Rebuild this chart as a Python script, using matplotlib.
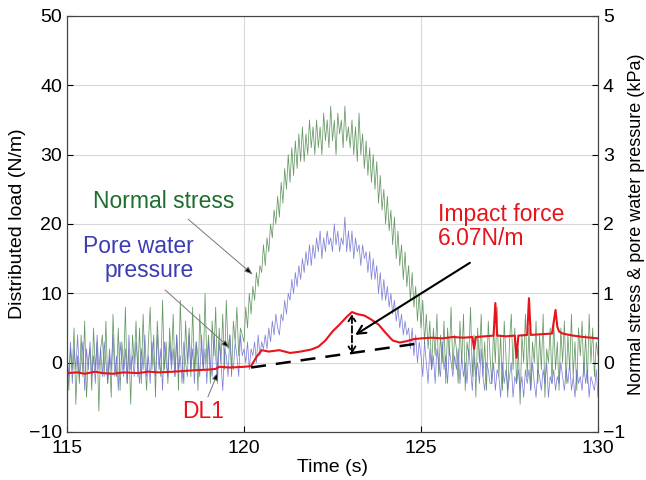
import numpy as np
import matplotlib
matplotlib.use("Agg")
import matplotlib.pyplot as plt

plt.rcParams['font.family'] = ['Liberation Sans', 'DejaVu Sans']

# time axis of the two pressure-cell records (20 samples per second)
time = np.linspace(115, 130, 301)

# normal stress, drawn on the left scale (kPa x 10)
normal_stress = [
    3, -4, 2, -1, 5, -6, 1, -3, 4, -2, 6, -5, 0, 2, -4, 5, -1, 3, -7, 2,
    4, -2, 6, -3, 1, -5, 7, 0, -2, 5, -4, 3, -1, 8, -3, 2, -6, 4, 0, 6,
    -2, 5, -3, 7, 0, -4, 3, 8, -1, 4, -5, 6, 1, -2, 9, -1, 3, -3, 5, 0,
    7, -2, 4, -4, 9, 1, -3, 6, 0, 5, -2, 8, -1, 3, -4, 7, 2, -1, 10, 0,
    4, -3, 6, 1, 8, -2, 5, 0, 7, -1, 9, 2, 4, -2, 6, 3, 8, 1, 5, 4,
    3, 8, 5, 10, 7, 11, 9, 13, 11, 14, 13, 17, 14, 18, 16, 20, 18, 22, 20, 24,
    21, 26, 23, 28, 25, 30, 26, 31, 27, 32, 28, 33, 29, 34, 29, 33, 30, 35, 31, 34,
    30, 35, 31, 34, 30, 36, 32, 35, 31, 37, 32, 35, 30, 36, 33, 35, 31, 37, 32, 34,
    31, 35, 30, 34, 29, 36, 30, 33, 28, 32, 27, 31, 26, 30, 25, 29, 23, 27, 22, 25,
    20, 24, 19, 22, 17, 21, 15, 19, 14, 17, 12, 16, 11, 14, 9, 13, 8, 11, 6, 10,
    5, 9, 3, 7, 2, 6, -1, 5, 1, 7, -2, 4, 0, 6, -3, 5, 1, 8, -1, 4,
    2, -3, 6, 0, 7, -4, 3, 1, 8, -2, 4, -5, 5, 0, 7, -2, 3, -4, 6, 1,
    -3, 5, 0, 8, -2, 4, -4, 6, 1, -5, 3, 7, -1, 5, -3, 2, -6, 4, 0, 7,
    -2, 5, -4, 3, 0, 6, -3, 4, -1, 7, -5, 2, 0, 5, -3, 6, -1, 3, -4, 5,
    0, 6, -3, 4, -1, 7, -2, 3, -4, 5, 1, 6, -2, 4, -3, 7, 0, 5, -2, 3,
    1,
]

# pore water pressure, same scale
pore_pressure = [
    1, -2, 3, -3, 2, -1, 4, -2, 0, 3, -4, 2, -1, 3, -2, 1, -3, 4, -1, 2,
    -2, 3, 0, -3, 2, -1, 4, -2, 1, -4, 3, 0, -2, 2, -3, 4, -1, 1, -2, 3,
    0, -3, 2, -1, 4, -2, 1, -3, 3, 0, -2, 4, -1, 2, -4, 3, 0, -2, 3, -1,
    2, -2, 4, -1, 1, -3, 3, 0, -2, 4, -1, 2, -3, 3, 1, -2, 4, -1, 2, -3,
    3, 0, -2, 4, 1, -3, 3, 0, -4, 2, 1, -2, 4, 0, -1, 3, 1, -2, 4, 1,
    2, 0, 3, -1, 2, 1, 3, 0, 4, 1, 3, 2, 4, 2, 5, 3, 6, 4, 7, 5,
    4, 7, 6, 9, 7, 10, 9, 12, 10, 13, 11, 14, 12, 15, 13, 16, 14, 17, 14, 17,
    15, 18, 16, 19, 15, 18, 16, 19, 17, 18, 16, 20, 17, 19, 16, 18, 17, 21, 16, 19,
    16, 19, 15, 18, 16, 17, 14, 17, 15, 16, 13, 16, 12, 15, 12, 14, 10, 13, 9, 12,
    9, 11, 8, 10, 7, 9, 6, 8, 5, 7, 4, 6, 4, 5, 2, 5, 1, 4, 0, 3,
    1, -2, 3, 0, -3, 2, -1, 1, -3, 2, 0, -2, 3, -1, 1, -3, 2, 0, -2, 1,
    -1, 2, -3, 1, -2, 0, -3, 2, -1, -4, 1, -2, 0, -3, 2, -2, -4, 0, -1, -3,
    -3, 0, -4, -1, -2, -5, 0, -3, -1, -4, -2, 0, -5, -2, -3, -1, -4, -2, -5, -1,
    -3, -1, -4, 0, -3, -5, -1, -2, -4, -1, -3, 0, -5, -2, -3, -1, -4, -2, -3, 0,
    -2, -4, -1, -3, 0, -4, -2, -5, -1, -3, -2, -4, 0, -3, -1, -5, -2, -3, -4, -1,
    -5,
]

# distributed load DL1 (N/m)
dl1_time = [115.0, 115.3, 115.5, 115.8, 116.0, 116.3, 116.6, 117.0, 117.3, 117.6,
            118.0, 118.3, 118.6, 119.0, 119.2, 119.3, 119.6, 120.0, 120.2, 120.35,
            120.5, 120.7, 121.0, 121.3, 121.6, 121.9, 122.1, 122.3, 122.5, 122.7,
            122.9, 123.05, 123.2, 123.4, 123.6, 123.8, 124.0, 124.2, 124.4, 124.6,
            124.8, 125.0, 125.3, 125.6, 125.9, 126.2, 126.45, 126.5, 126.55, 126.8,
            127.05, 127.1, 127.15, 127.4, 127.65, 127.7, 127.75, 128.0, 128.05, 128.1,
            128.4, 128.7, 128.8, 128.85, 128.9, 129.0, 129.3, 129.6, 130.0]
dl1_load = [-1.5, -1.4, -1.6, -1.3, -1.5, -1.6, -1.4, -1.5, -1.3, -1.4,
            -1.3, -1.2, -1.1, -1.0, -0.9, -0.6, -0.7, -0.6, -0.5, 0.8,
            1.8, 1.6, 1.8, 1.4, 1.6, 1.9, 2.3, 3.2, 4.5, 5.5,
            6.6, 7.3, 7.0, 6.8, 6.2, 5.5, 4.3, 3.2, 2.9, 3.1,
            3.4, 3.5, 3.6, 3.5, 3.7, 3.6, 3.7, 2.0, 3.7, 3.8,
            3.9, 8.6, 3.9, 3.8, 3.9, 0.7, 3.9, 4.0, 9.3, 4.0,
            4.1, 4.2, 7.6, 5.2, 4.5, 4.2, 3.9, 3.7, 3.5]

# static baseline under the impact
base_time = [120.2, 125.1]
base_load = [-0.7, 2.9]

fig = plt.figure(figsize=(6.46, 4.8), dpi=100)
ax = fig.add_axes([0.1037, 0.1, 0.822, 0.8667])

ax.plot(time, normal_stress, color='#4a864a', lw=0.55, alpha=0.85)
ax.plot(time, pore_pressure, color='#6a6ad2', lw=0.55, alpha=0.85)
ax.plot(dl1_time, dl1_load, color='#e8141c', lw=1.5)
ax.plot(base_time, base_load, color='k', ls='--', lw=1.8, dashes=(6, 4))

ax.set_xlim(115, 130)
ax.set_ylim(-10, 50)
ax.set_xticks([115, 120, 125, 130])
ax.set_yticks(range(-10, 51, 10))
ax.grid(True, color='#d8d8d8', lw=0.8)
ax.set_axisbelow(True)
ax.tick_params(direction='in', labelsize=14, length=4)
ax.tick_params(axis='x', pad=6)
ax.set_xlabel('Time (s)', fontsize=14, labelpad=1)
ax.set_ylabel('Distributed load (N/m)', fontsize=14, labelpad=2)

ax2 = ax.twinx()
ax2.set_ylim(-1, 5)
ax2.set_yticks(range(-1, 6))
ax2.tick_params(direction='in', labelsize=14, length=4)
ax2.set_ylabel('Normal stress & pore water pressure (kPa)', fontsize=13,
               labelpad=2)

for a in (ax, ax2):
    for s in a.spines.values():
        s.set_color('#444444')
        s.set_linewidth(0.8)

thin = dict(arrowstyle='-|>,head_length=0.5,head_width=0.18', lw=0.7,
            ec='#777777', fc='k', shrinkA=0, shrinkB=0)
ax.text(117.74, 23.2, 'Normal stress', color='#1e6e2e', fontsize=16.5,
        ha='center', va='center')
ax.annotate('', xy=(120.25, 12.7), xytext=(118.42, 20.7), arrowprops=thin)
ax.text(118.59, 15.0, 'Pore water\npressure', color='#3c3cb4', fontsize=16.5,
        ha='right', va='center', multialignment='right', linespacing=1.05)
ax.annotate('', xy=(119.6, 2.1), xytext=(117.77, 10.5), arrowprops=thin)
ax.text(118.84, -7.0, 'DL1', color='#e8141c', fontsize=16.5,
        ha='center', va='center')
ax.annotate('', xy=(119.27, -1.34), xytext=(118.98, -4.95), arrowprops=thin)

ax.text(125.48, 19.7, 'Impact force\n6.07N/m', color='#e8141c', fontsize=16.5,
        ha='left', va='center', multialignment='left', linespacing=1.05)
ax.annotate('', xy=(123.14, 4.0), xytext=(126.38, 14.4),
            arrowprops=dict(arrowstyle='->,head_length=0.6,head_width=0.3',
                            lw=1.5, color='k', shrinkA=0, shrinkB=0))
ax.annotate('', xy=(123.05, 7.0), xytext=(123.05, 1.3),
            arrowprops=dict(arrowstyle='<->,head_length=0.4,head_width=0.25',
                            lw=1.3, ls='--', color='k', shrinkA=0, shrinkB=0))

fig.savefig('out.png', dpi=100)
